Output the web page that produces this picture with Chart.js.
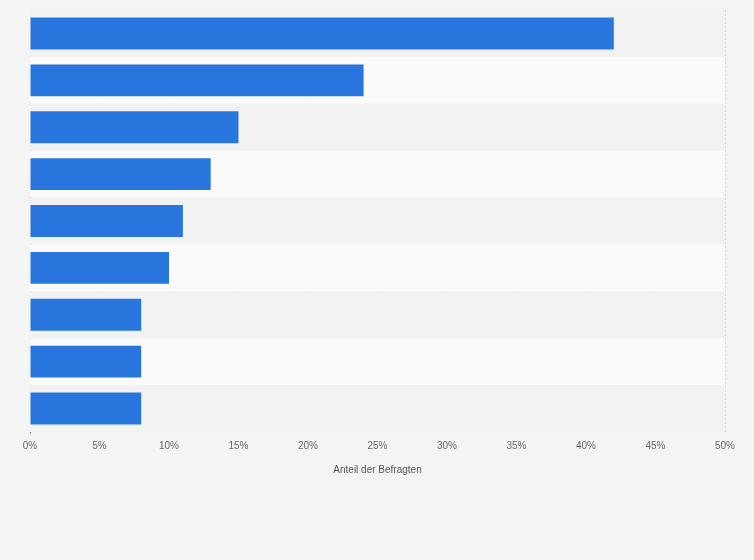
<!DOCTYPE html>
<html><head><meta charset="utf-8">
<script src="https://cdn.jsdelivr.net/npm/chart.js@4"></script>
<style>html,body{margin:0;padding:0;background:#f4f4f4;}#w{width:754px;height:560px;}</style>
</head><body><div id="w"><canvas id="c"></canvas></div>
<script>
const categories = ["1","2","3","4","5","6","7","8","9"];
const values = [42, 24, 15, 13, 11, 10, 8, 8, 8];
const xTicks = ["0%","5%","10%","15%","20%","25%","30%","35%","40%","45%","50%"];

const bands = {
  id: 'bands',
  beforeDatasetsDraw(chart) {
    const {ctx, chartArea: a, scales: {y}} = chart;
    const n = categories.length;
    for (let i = 0; i < n; i++) {
      const c = y.getPixelForValue(i);
      const h = (y.getPixelForValue(1) - y.getPixelForValue(0));
      ctx.fillStyle = i % 2 === 0 ? '#f2f2f2' : '#fafafa';
      ctx.fillRect(a.left, c - h/2, a.right - a.left, h);
    }
  }
};

new Chart(document.getElementById('c'), {
  type: 'bar',
  data: { labels: categories, datasets: [{ data: values, backgroundColor: '#2876dd', borderWidth: 0, categoryPercentage: 0.68, barPercentage: 1 }] },
  options: {
    indexAxis: 'y', responsive: true, maintainAspectRatio: false, animation: false,
    layout: { padding: { left: 30, right: 29, top: 10, bottom: 80 } },
    plugins: { legend: { display: false }, tooltip: { enabled: false } },
    scales: {
      x: { min: 0, max: 50, position: 'bottom',
        ticks: { stepSize: 5, color: '#666', font: { family: 'Arial, Liberation Sans', size: 10 }, padding: 8,
          callback: (v, i) => xTicks[i] },
        grid: { color: '#d8d8d8', borderDash: [2,2], drawTicks: false },
        border: { display: false, dash: [2,2] },
        title: { display: true, text: 'Anteil der Befragten', color: '#555', font: { family: 'Arial, Liberation Sans', size: 10 }, padding: { top: 4 } } },
      y: { ticks: { display: false }, grid: { display: false, drawTicks: false },
        border: { display: true, color: '#444', width: 1 } }
    }
  },
  plugins: [bands]
});
</script></body></html>
